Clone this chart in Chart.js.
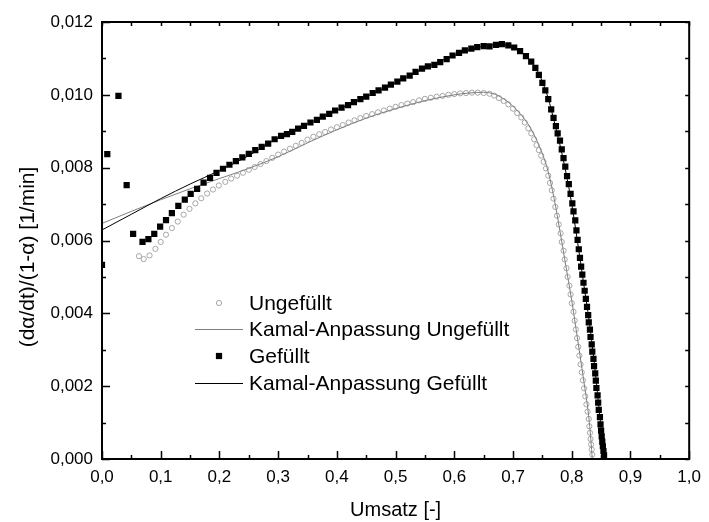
<!DOCTYPE html>
<html>
<head>
<meta charset="utf-8">
<script src="https://cdn.jsdelivr.net/npm/chart.js@4.4.1/dist/chart.umd.min.js"></script>
<style>
  html, body { margin: 0; padding: 0; background: #fff; }
  #wrap { width: 709px; height: 522px; }
</style>
</head>
<body>
<div id="wrap"><canvas id="kinetik" width="709" height="522"></canvas></div>
<script>
const FONT = "'Liberation Sans', Arial, sans-serif";

// Ungefüllt: Messpunkte (Umsatz / Rate)
const ungefuelltX = [
  0.063, 0.071, 0.081, 0.091, 0.100, 0.109, 0.119, 0.129, 0.139, 0.149,
  0.159, 0.169, 0.179, 0.189, 0.199, 0.210, 0.220, 0.230, 0.240, 0.250,
  0.260, 0.270, 0.280, 0.290, 0.300, 0.310, 0.320, 0.330, 0.340, 0.350,
  0.360, 0.370, 0.380, 0.390, 0.400, 0.410, 0.420, 0.430, 0.440, 0.450,
  0.460, 0.470, 0.480, 0.490, 0.500, 0.510, 0.520, 0.530, 0.540, 0.550,
  0.560, 0.570, 0.580, 0.590, 0.600, 0.610, 0.620, 0.630, 0.640, 0.650,
  0.660, 0.668, 0.676, 0.684, 0.692, 0.700, 0.707, 0.714, 0.720, 0.726,
  0.731, 0.736, 0.740, 0.744, 0.748, 0.752, 0.756, 0.760, 0.763, 0.766,
  0.769, 0.772, 0.775, 0.778, 0.781, 0.783, 0.786, 0.788, 0.791, 0.793,
  0.796, 0.798, 0.800, 0.803, 0.805, 0.807, 0.809, 0.811, 0.813, 0.815,
  0.817, 0.819, 0.821, 0.823, 0.825, 0.827, 0.829, 0.830, 0.831, 0.832,
  0.833, 0.834, 0.835
];
const ungefuelltY = [
  0.00557, 0.00549, 0.00559, 0.00577, 0.00596, 0.00616, 0.00634, 0.00652, 0.00671, 0.00687,
  0.00702, 0.00716, 0.00729, 0.00740, 0.00751, 0.00761, 0.00770, 0.00778, 0.00786, 0.00794,
  0.00802, 0.00810, 0.00818, 0.00827, 0.00836, 0.00844, 0.00852, 0.00860, 0.00868, 0.00877,
  0.00885, 0.00892, 0.00898, 0.00905, 0.00911, 0.00917, 0.00924, 0.00930, 0.00936, 0.00942,
  0.00947, 0.00952, 0.00957, 0.00962, 0.00967, 0.00972, 0.00976, 0.00980, 0.00985, 0.00989,
  0.00992, 0.00995, 0.00997, 0.01000, 0.01002, 0.01004, 0.01005, 0.01006, 0.01006, 0.01005,
  0.01003, 0.00998, 0.00991, 0.00983, 0.00974, 0.00962, 0.00950, 0.00938, 0.00924, 0.00908,
  0.00894, 0.00878, 0.00862, 0.00848, 0.00833, 0.00816, 0.00798, 0.00778, 0.00758, 0.00738,
  0.00715, 0.00692, 0.00668, 0.00644, 0.00620, 0.00596, 0.00572, 0.00548, 0.00524, 0.00500,
  0.00476, 0.00452, 0.00428, 0.00404, 0.00380, 0.00356, 0.00332, 0.00308, 0.00284, 0.00260,
  0.00238, 0.00216, 0.00194, 0.00172, 0.00150, 0.00130, 0.00110, 0.00090, 0.00072, 0.00055,
  0.00040, 0.00026, 0.00012
];

// Gefüllt: Messpunkte
const gefuelltX = [
  0.000, 0.009, 0.028, 0.042, 0.053, 0.069, 0.079, 0.089, 0.099, 0.109,
  0.119, 0.130, 0.141, 0.151, 0.162, 0.173, 0.184, 0.195, 0.206, 0.217,
  0.228, 0.239, 0.250, 0.261, 0.272, 0.283, 0.294, 0.305, 0.315, 0.324,
  0.334, 0.344, 0.355, 0.366, 0.376, 0.387, 0.397, 0.408, 0.419, 0.429,
  0.440, 0.450, 0.461, 0.471, 0.482, 0.492, 0.503, 0.513, 0.524, 0.534,
  0.545, 0.555, 0.566, 0.576, 0.587, 0.597, 0.608, 0.618, 0.629, 0.639,
  0.650, 0.660, 0.671, 0.681, 0.692, 0.702, 0.712, 0.722, 0.731, 0.738,
  0.744, 0.750, 0.755, 0.760, 0.765, 0.769, 0.773, 0.776, 0.780, 0.783,
  0.786, 0.789, 0.792, 0.795, 0.798, 0.801, 0.803, 0.806, 0.808, 0.810,
  0.812, 0.814, 0.816, 0.818, 0.820, 0.822, 0.824, 0.826, 0.828, 0.829,
  0.831, 0.832, 0.834, 0.835, 0.837, 0.838, 0.840, 0.841, 0.842, 0.844,
  0.845, 0.846, 0.848, 0.849, 0.850, 0.851, 0.852, 0.853, 0.854, 0.855
];
const gefuelltY = [
  0.00533, 0.00837, 0.00997, 0.00752, 0.00618, 0.00596, 0.00604, 0.00618, 0.00638, 0.00656,
  0.00675, 0.00695, 0.00712, 0.00728, 0.00742, 0.00759, 0.00772, 0.00786, 0.00797, 0.00808,
  0.00818, 0.00828, 0.00838, 0.00848, 0.00857, 0.00866, 0.00878, 0.00887, 0.00892, 0.00898,
  0.00907, 0.00915, 0.00924, 0.00931, 0.00940, 0.00948, 0.00957, 0.00965, 0.00972, 0.00980,
  0.00988, 0.00995, 0.01005, 0.01012, 0.01020, 0.01028, 0.01036, 0.01045, 0.01053, 0.01063,
  0.01072, 0.01078, 0.01082, 0.01090, 0.01098, 0.01108, 0.01115, 0.01122, 0.01127, 0.01131,
  0.01134, 0.01133, 0.01137, 0.01139, 0.01136, 0.01130, 0.01120, 0.01106, 0.01091, 0.01074,
  0.01055, 0.01033, 0.01012, 0.00988, 0.00960, 0.00937, 0.00914, 0.00894, 0.00874, 0.00850,
  0.00826, 0.00803, 0.00777, 0.00755, 0.00728, 0.00702, 0.00680, 0.00655, 0.00628, 0.00602,
  0.00576, 0.00552, 0.00528, 0.00506, 0.00484, 0.00462, 0.00440, 0.00418, 0.00395, 0.00375,
  0.00355, 0.00335, 0.00315, 0.00295, 0.00275, 0.00255, 0.00235, 0.00215, 0.00195, 0.00175,
  0.00155, 0.00135, 0.00115, 0.00095, 0.00078, 0.00062, 0.00048, 0.00035, 0.00022, 0.00010
];

// Kamal-Anpassung, Stützstellen der Fitkurven
const kamalUngX = [0, 0.05, 0.1, 0.15, 0.2, 0.25, 0.3, 0.35, 0.4, 0.45, 0.5, 0.55, 0.6, 0.625,
  0.65, 0.67, 0.69, 0.71, 0.73, 0.75, 0.76, 0.77, 0.78, 0.79, 0.80, 0.81, 0.82, 0.83, 0.835];
const kamalUngY = [0.00647, 0.00680, 0.00712, 0.00742, 0.00770, 0.00798, 0.00830, 0.00868,
  0.00904, 0.00936, 0.00962, 0.00984, 0.01000, 0.01005, 0.01007, 0.01001, 0.00982, 0.00952,
  0.00908, 0.00838, 0.00788, 0.00715, 0.00625, 0.00530, 0.00435, 0.00328, 0.00220, 0.00100, 0];

const kamalGefX = [0, 0.05, 0.1, 0.15, 0.2, 0.25, 0.3, 0.35, 0.4, 0.45, 0.5, 0.55, 0.6, 0.63,
  0.66, 0.68, 0.70, 0.72, 0.74, 0.75, 0.76, 0.77, 0.78, 0.79, 0.80, 0.81, 0.82, 0.83, 0.84,
  0.85, 0.856];
const kamalGefY = [0.00629, 0.00672, 0.00715, 0.00755, 0.00792, 0.00833, 0.00882, 0.00920,
  0.00958, 0.00995, 0.01033, 0.01074, 0.01108, 0.01126, 0.01136, 0.01138, 0.01131, 0.01110,
  0.01070, 0.01036, 0.00990, 0.00928, 0.00862, 0.00788, 0.00700, 0.00595, 0.00485, 0.00375,
  0.00240, 0.00085, 0];

const legendLabels = ['Ungefüllt', 'Kamal-Anpassung Ungefüllt', 'Gefüllt', 'Kamal-Anpassung Gefüllt'];
const xTitle = 'Umsatz [-]';
const yTitle = '(dα/dt)/(1-α) [1/min]';

const pairs = (xs, ys) => xs.map((x, i) => ({ x: x, y: ys[i] }));
const komma = (v, d) => v.toFixed(d).replace('.', ',');

// Rahmen mit nach innen zeigenden Ticks, Achsentitel und Legende
const rahmen = {
  id: 'rahmen',
  afterDatasetsDraw(chart) {
    const { ctx, chartArea: a, scales } = chart;
    const sx = scales.x, sy = scales.y;
    ctx.save();
    ctx.strokeStyle = '#000';
    ctx.lineWidth = 1.5;
    ctx.beginPath();
    for (let i = 0; i <= 20; i++) {
      const px = Math.round(sx.getPixelForValue(i * 0.05)) + 0.5;
      const lang = i % 2 === 0 ? 8 : 4;
      ctx.moveTo(px, a.bottom); ctx.lineTo(px, a.bottom - lang);
      ctx.moveTo(px, a.top); ctx.lineTo(px, a.top + 4);
    }
    for (let i = 0; i <= 12; i++) {
      const py = Math.round(sy.getPixelForValue(i * 0.001)) + 0.5;
      const lang = i % 2 === 0 ? 8 : 4;
      ctx.moveTo(a.left, py); ctx.lineTo(a.left + lang, py);
      ctx.moveTo(a.right, py); ctx.lineTo(a.right - 4, py);
    }
    ctx.stroke();
    ctx.lineWidth = 2;
    ctx.strokeRect(a.left, a.top, a.right - a.left, a.bottom - a.top);

    // Achsentitel
    ctx.fillStyle = '#000';
    ctx.font = '20px ' + FONT;
    ctx.textAlign = 'center';
    ctx.textBaseline = 'alphabetic';
    ctx.fillText(xTitle, (a.left + a.right) / 2, 516);
    ctx.translate(34, 257);
    ctx.rotate(-Math.PI / 2);
    ctx.font = '21px ' + FONT;
    ctx.fillText(yTitle, 0, 0);
    ctx.restore();

    // Legende
    ctx.save();
    const ds = chart.data.datasets;
    const zeilen = [303, 329, 356, 383];
    ctx.font = '21px ' + FONT;
    ctx.textAlign = 'left';
    ctx.textBaseline = 'middle';
    ds.forEach((d, i) => {
      const y = zeilen[i];
      if (d.showLine) {
        ctx.strokeStyle = d.borderColor;
        ctx.lineWidth = d.borderWidth;
        ctx.beginPath();
        ctx.moveTo(195, y + 0.5); ctx.lineTo(243, y + 0.5);
        ctx.stroke();
      } else {
        ctx.strokeStyle = d.pointBorderColor;
        ctx.fillStyle = d.pointBackgroundColor;
        ctx.lineWidth = d.pointBorderWidth;
        Chart.helpers.drawPoint(ctx, { pointStyle: d.pointStyle, radius: d.pointRadius, borderWidth: d.pointBorderWidth, rotation: 0 }, 219, y);
      }
      ctx.fillStyle = '#000';
      ctx.fillText(legendLabels[i], 249, y + 1);
    });
    ctx.restore();
  }
};

new Chart(document.getElementById('kinetik'), {
  type: 'scatter',
  data: {
    datasets: [
      {
        label: legendLabels[0],
        data: pairs(ungefuelltX, ungefuelltY),
        pointStyle: 'circle',
        pointRadius: 2.6,
        pointBorderWidth: 1,
        pointBorderColor: '#a6a6a6',
        pointBackgroundColor: 'rgba(0,0,0,0)',
        showLine: false,
        order: 4
      },
      {
        label: legendLabels[1],
        data: pairs(kamalUngX, kamalUngY),
        showLine: true,
        borderColor: '#7f7f7f',
        borderWidth: 1,
        pointRadius: 0,
        cubicInterpolationMode: 'monotone',
        order: 3
      },
      {
        label: legendLabels[2],
        data: pairs(gefuelltX, gefuelltY),
        pointStyle: 'rect',
        pointRadius: 4.4,
        pointBorderWidth: 0,
        pointBorderColor: '#000',
        pointBackgroundColor: '#000',
        showLine: false,
        clip: 0,
        order: 2
      },
      {
        label: legendLabels[3],
        data: pairs(kamalGefX, kamalGefY),
        showLine: true,
        borderColor: '#000',
        borderWidth: 1,
        pointRadius: 0,
        cubicInterpolationMode: 'monotone',
        order: 1
      }
    ]
  },
  options: {
    responsive: false,
    animation: false,
    devicePixelRatio: 1,
    layout: { padding: { top: 22, right: 14, left: 0, bottom: 0 } },
    plugins: { legend: { display: false }, tooltip: { enabled: false } },
    scales: {
      x: {
        type: 'linear',
        min: 0, max: 1,
        grid: { display: false, drawTicks: false },
        border: { display: false },
        ticks: {
          stepSize: 0.1,
          padding: 8,
          color: '#000',
          font: { family: FONT, size: 17 },
          maxRotation: 0,
          callback: v => komma(v, 1)
        },
        afterFit: s => { s.height = 63; }
      },
      y: {
        type: 'linear',
        min: 0, max: 0.012,
        grid: { display: false, drawTicks: false },
        border: { display: false },
        ticks: {
          stepSize: 0.002,
          padding: 9,
          color: '#000',
          font: { family: FONT, size: 17 },
          callback: v => komma(v, 3)
        },
        afterFit: s => { s.width = 102; }
      }
    }
  },
  plugins: [rahmen]
});
</script>
</body>
</html>
